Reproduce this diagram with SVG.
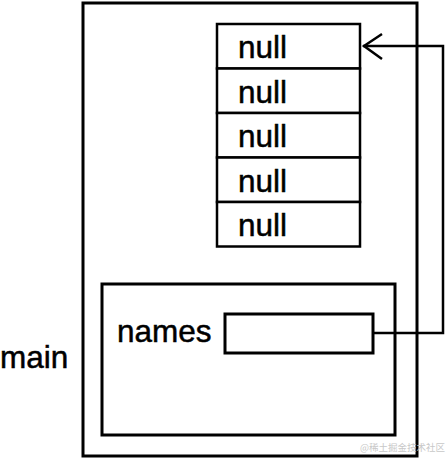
<svg xmlns="http://www.w3.org/2000/svg" width="447" height="460" viewBox="0 0 447 460">
<style>
.box{fill:none;stroke:#000;stroke-width:3}
.cell{fill:#fff;stroke:#000;stroke-width:2.5}
.t{font-family:"Liberation Sans",Arial,sans-serif;font-size:31.5px;fill:#000;stroke:#000;stroke-width:0.5}
.wm{font-family:"Noto Sans CJK SC",sans-serif;font-size:9.5px;fill:#c8c8c8}
.conn{fill:none;stroke:#000;stroke-width:2.5}
</style>
<rect width="447" height="460" fill="#fff"/>
<g id="main">
<rect class="box" x="83" y="3" width="334" height="453"/>
<text class="t" x="0" y="368">main</text>
</g>
<g id="array">
<rect class="cell" x="217" y="24" width="143" height="44.5"/>
<rect class="cell" x="217" y="68.5" width="143" height="44.5"/>
<rect class="cell" x="217" y="113" width="143" height="44.5"/>
<rect class="cell" x="217" y="157.5" width="143" height="44.5"/>
<rect class="cell" x="217" y="202" width="143" height="44.5"/>
<text class="t" x="238" y="58">null</text>
<text class="t" x="238" y="102.5">null</text>
<text class="t" x="238" y="147">null</text>
<text class="t" x="238" y="191.5">null</text>
<text class="t" x="238" y="236">null</text>
</g>
<g id="frame">
<rect class="box" x="102" y="284" width="293" height="151"/>
<text class="t" x="117" y="342">names</text>
</g>
<g id="names">
<rect class="box" x="225" y="314" width="148" height="39"/>
</g>
<g id="connectors">
<polyline class="conn" points="373,333 443,333 443,46 363,46"/>
<polyline class="conn" stroke-width="3" points="382,34 364,46 382,59"/>
</g>
<text class="wm" x="360" y="451">@稀土掘金技术社区</text>
</svg>
